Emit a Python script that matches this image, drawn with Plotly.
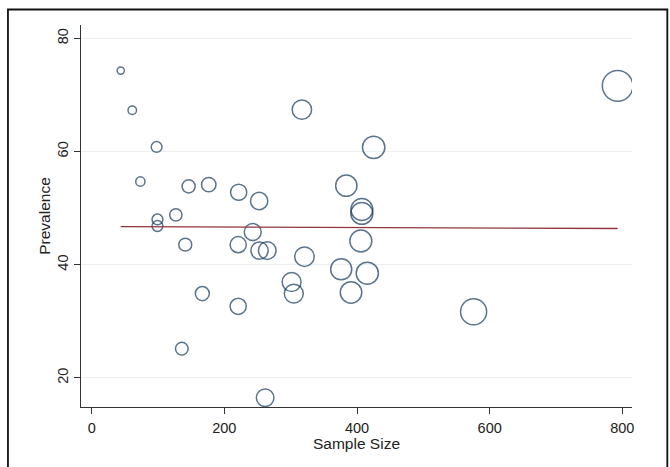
import plotly.graph_objects as go

# ---- data ----
sample_size = [43.8, 61.2, 97.9, 73.4, 146.2, 176.5, 221.6, 252.5, 126.9, 99.2,
               99.2, 242.8, 141.1, 220.9, 253.1, 264.7, 320.8, 301.4, 304.7, 166.8,
               220.9, 135.9, 261.5, 316.9, 425.1, 383.9, 407.3, 407.3, 405.8, 376.2,
               415.5, 391.0, 575.8, 792.9]
prevalence = [74.3, 67.3, 60.8, 54.7, 53.85, 54.15, 52.8, 51.26, 48.8, 48.0,
              46.84, 45.78, 43.55, 43.55, 42.5, 42.5, 41.43, 36.95, 34.9, 34.9,
              32.65, 25.17, 16.5, 67.4, 60.74, 53.97, 49.77, 49.07, 44.2, 39.2,
              38.5, 35.1, 31.7, 71.6]
fit_x = [43.8, 792.9]
fit_y = [46.73, 46.4]
x_ticks = [0, 200, 400, 600, 800]
y_ticks = [20, 40, 60, 80]

W, H = 670, 467
ML, MR, MT, MB = 81, 38.3, 25, 60.3
pw = W - ML - MR
ph = H - MT - MB

navy = "#173a5e"
maroon = "#90353b"
txt = "#222222"
font = "Liberation Sans, Arial, sans-serif"

fig = go.Figure()
fig.add_trace(go.Scatter(
    x=sample_size, y=prevalence, mode="markers",
    marker=dict(size=sample_size, sizemode="area", sizeref=1.694,
                color="rgba(0,0,0,0)", line=dict(color=navy, width=1.5)),
    showlegend=False, hoverinfo="x+y"))
fig.add_trace(go.Scatter(
    x=fit_x, y=fit_y, mode="lines",
    line=dict(color=maroon, width=1.4), showlegend=False))

# outer frame (in paper coordinates derived from pixel positions)
def px_x(p):
    return (p - ML) / pw

def px_y(p):
    return (H - MB - p) / ph

fig.add_shape(type="rect", xref="paper", yref="paper",
              x0=px_x(8), x1=px_x(667), y0=px_y(480), y1=px_y(9.5),
              line=dict(color="#111111", width=1.8), fillcolor="rgba(0,0,0,0)",
              layer="below")

fig.update_layout(
    width=W, height=H,
    margin=dict(l=ML, r=MR, t=MT, b=MB, pad=0),
    paper_bgcolor="white", plot_bgcolor="white",
    font=dict(family=font, color=txt, size=14.5),
    xaxis=dict(range=[-16.1, 814.6], tickvals=x_ticks, ticks="outside",
               ticklen=6, tickwidth=1, tickcolor="#333", showline=True,
               linecolor="#333", linewidth=1.2, showgrid=False, zeroline=False,
               ticklabelstandoff=1,
               title=dict(text="Sample Size", font=dict(size=15.5), standoff=1)),
    yaxis=dict(range=[14.87, 82.35], tickvals=y_ticks, ticks="outside",
               ticklen=6, tickwidth=1, tickcolor="#333", showline=True,
               linecolor="#333", linewidth=1.2, showgrid=True,
               gridcolor="#eaf0f1", gridwidth=1, zeroline=False, tickangle=-90,
               ticklabelstandoff=0,
               title=dict(text="Prevalence", font=dict(size=15.5), standoff=0)),
)

fig.write_html("out.html")
